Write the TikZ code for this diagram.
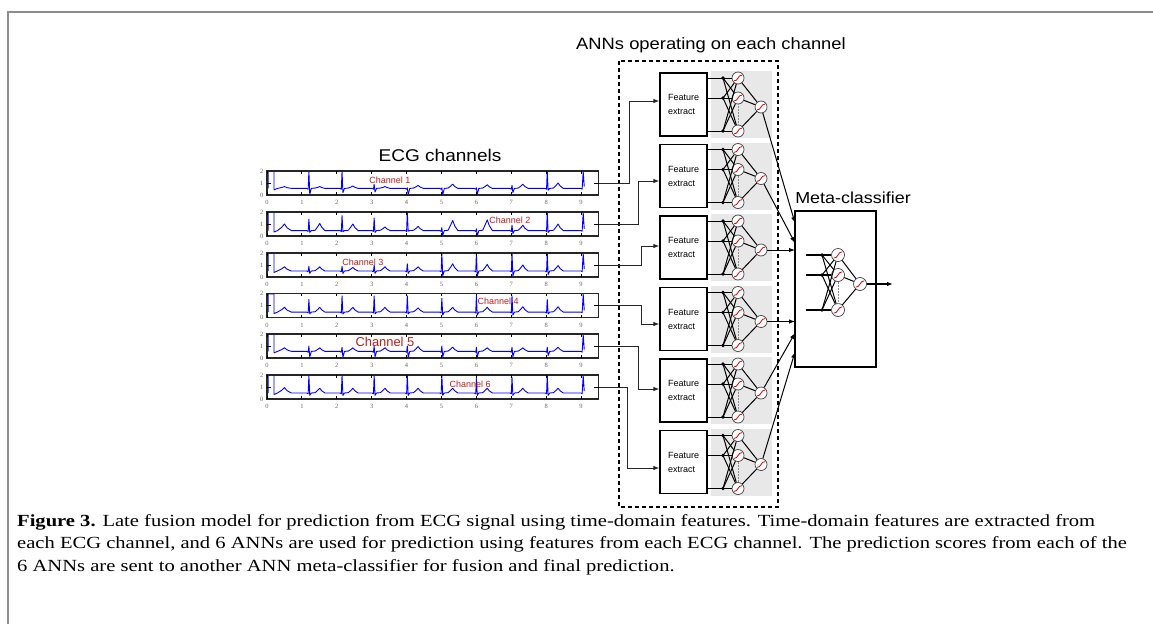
\documentclass[tikz,border=0pt]{standalone}
\usepackage{fontspec}
\setmainfont{Liberation Serif}
\setsansfont{Liberation Sans}
\newfontfamily\titlefont[FakeStretch=1.12]{Liberation Sans}
\newfontfamily\plainsans{Liberation Sans}
\newfontfamily\capfont[FakeStretch=1.21]{Liberation Serif}
\usetikzlibrary{arrows.meta,calc}
\definecolor{ecgblue}{RGB}{0,0,255}
\definecolor{chred}{RGB}{190,30,30}
\definecolor{panelgray}{RGB}{232,232,232}
\definecolor{framegray}{RGB}{140,140,140}

\tikzset{
  sig/.style={draw=ecgblue, line width=0.9pt, line join=round},
  plotframe/.style={draw=black!85, line width=1.6pt},
  tickmark/.style={draw=black, line width=1pt},
  xlab/.style={font=\fontsize{6.5}{6.5}\selectfont, text=black!60, inner sep=0pt},
  ylab/.style={font=\fontsize{6.5}{6.5}\selectfont, text=black!60, inner sep=0pt},
  chlab/.style={text=chred, inner sep=0pt},
  ttl/.style={inner sep=0pt},
  fbox/.style={draw, line width=1.3pt, minimum width=47pt, minimum height=63pt, align=left, inner sep=0pt,
    font=\plainsans\fontsize{9}{14}\selectfont},
  neuron/.style={circle, draw=black!75, fill=white, line width=0.7pt, inner sep=0pt, minimum size=#1,
    path picture={\draw[red!85!black, line width=0.8pt]
      ([shift={(-0.33*#1,-0.24*#1)}]path picture bounding box.center) .. controls
      ([shift={(0pt,-0.28*#1)}]path picture bounding box.center) and
      ([shift={(0pt,0.28*#1)}]path picture bounding box.center) ..
      ([shift={(0.33*#1,0.24*#1)}]path picture bounding box.center);}},
  neuron/.default=12pt,
  wire/.style={draw=black, line width=1pt},
  conn/.style={draw=black!85, line width=1pt, -{Latex[length=6pt,width=4.5pt]}},
  arr/.style={draw=black, line width=1pt, -{Latex[length=6pt,width=4.5pt]}},
  metabox/.style={draw, line width=1.4pt, minimum width=81pt, minimum height=156pt, inner sep=0pt},
}

% #1 index, #2 bottom y, #3 baseline, #4 first T, #5 beats, #6 label pos, #7 label size
\newcommand{\ecgplot}[7]{%
\begin{scope}[shift={(267,#2)}, x=34.9pt, y=12pt]
  \draw[sig] (0.03,#3) -- (0.03,1.96) -- (0.2,1.96) -- (0.2,#3-0.12) -- (0.3,#3)
    -- (0.42,#3+0.5*#4) -- (0.5,#3+#4) -- (0.58,#3+0.4*#4) -- (0.7,#3)
    \foreach \tA/\rA/\sA/\wA in {#5} { -- (\tA-0.06,#3) -- (\tA-0.02,#3-0.07) -- (\tA,\rA) -- (\tA+0.025,\sA)
      -- (\tA+0.07,#3) -- (\tA+0.18,#3+0.03) -- (\tA+0.26,#3+0.6*\wA) -- (\tA+0.31,#3+\wA)
      -- (\tA+0.37,#3+0.45*\wA) -- (\tA+0.46,#3) }
    -- (9.0,#3) -- (9.03,#3-0.06) -- (9.06,1.96) -- (9.09,#3+0.15);
  \draw[plotframe] (0,0) rectangle (9.5,2);
  \foreach \k in {0,...,9} {
    \draw[tickmark] (\k,0) -- (\k,0.22);
    \draw[tickmark] (\k,2) -- (\k,1.78);
    \node[xlab] (xl#1-\k) at (\k,-0.62) {\k};
  }
  \draw[tickmark] (0,1) -- (0.12,1);
  \draw[tickmark] (9.5,1) -- (9.38,1);
  \node[ylab] (yl#1-2) at (-0.15,2) {2};
  \node[ylab] (yl#1-1) at (-0.15,1) {1};
  \node[ylab] (yl#1-0) at (-0.15,0) {0};
  \coordinate (ch#1) at (9.5,1);
  \node[chlab, font=\plainsans\fontsize{#7}{#7}\selectfont] (lab#1) at #6 {Channel #1};
\end{scope}}

\begin{document}
\begin{tikzpicture}[x=1pt, y=-1pt]
\useasboundingbox (0,0) rectangle (1153,624);
\fill[white] (0,0) rectangle (1153,624);
\draw[framegray, line width=1.5pt] (8,624) -- (8,12) -- (1153,12);

% titles
\node[ttl, font=\titlefont\fontsize{17}{17}\selectfont] (ecgt) at (440,155) {ECG channels};
\node[ttl, font=\titlefont\fontsize{16.4}{16.4}\selectfont] (annt) at (711,45) {ANNs operating on each channel};
\node[ttl, font=\titlefont\fontsize{16}{16}\selectfont] (metat) at (853,198) {Meta-classifier};

% ECG plots
\ecgplot{1}{195}{0.55}{0.15}{1.2/2/0.05/0.15, 2.15/2/0.2/0.2, 3.07/0.9/0.25/0.15, 4.02/0.6/0.0/0.25, 5.01/0.6/0.0/0.35, 6.0/0.6/0.05/0.3, 7.02/0.8/0.2/0.35, 8.03/2/0.4/0.45}{(3.52,1.25)}{9}
\ecgplot{2}{236}{0.45}{0.55}{1.2/1.4/0.3/0.6, 2.15/1.7/0.35/0.55, 3.07/1.5/0.3/0.3, 4.02/2/0.4/0.35, 5.01/0.7/0.05/0.85, 6.0/0.6/0.0/0.9, 7.02/0.9/0.2/0.45, 8.03/2/0.3/0.55}{(6.96,1.33)}{9}
\ecgplot{3}{277}{0.5}{0.35}{1.2/0.9/0.3/0.35, 2.15/0.9/0.3/0.3, 3.07/1.0/0.3/0.35, 4.02/1.1/0.3/0.35, 5.01/2/0.1/0.6, 6.0/2/0.1/0.55, 7.02/2/0.1/0.5, 8.03/2/0.2/0.45}{(2.75,1.25)}{9}
\ecgplot{4}{317.5}{0.45}{0.4}{1.2/1.5/0.3/0.4, 2.15/1.8/0.3/0.4, 3.07/1.8/0.3/0.4, 4.02/1.8/0.3/0.35, 5.01/1.6/0.2/0.4, 6.0/1.8/0.2/0.4, 7.02/1.8/0.2/0.45, 8.03/1.5/0.3/0.45}{(6.62,1.37)}{9}
\ecgplot{5}{358}{0.55}{0.3}{1.2/1.0/0.1/0.3, 2.15/0.9/0.05/0.3, 3.07/1.0/0.1/0.3, 4.02/1.0/0.05/0.4, 5.01/1.0/0.1/0.35, 6.0/0.9/0.1/0.3, 7.02/0.9/0.1/0.3, 8.03/0.9/0.2/0.35}{(3.38,1.33)}{12.9}
\ecgplot{6}{399}{0.5}{0.45}{1.2/2/0.3/0.4, 2.15/2/0.3/0.4, 3.07/2/0.3/0.4, 4.02/2/0.3/0.4, 5.01/2/0.3/0.4, 6.0/1.7/0.3/0.4, 7.02/1.8/0.3/0.4, 8.03/2/0.3/0.4}{(5.82,1.25)}{9}

% dashed ANN container
\draw[dashed, line width=1.5pt, dash pattern=on 4pt off 3pt] (619,61) rectangle (778,507);

% ANNs
\foreach \i/\yt in {1/73,2/144.5,3/216,4/287.5,5/359,6/430.5} {
  \fill[panelgray] (711,\yt-2) rectangle (772,\yt+65);
  \node[fbox] (fb\i) at (683.5,\yt+31.5) {Feature\\extract};
  \foreach \k/\dy in {a/5,b/25,c/58} {
    \node[neuron] (h\i\k) at (738,\yt+\dy) {};
    \coordinate (in\i\k) at (707,\yt+\dy);
    \coordinate (d\i\k) at (723,\yt+\dy);
  }
  \node[neuron] (o\i) at (761,\yt+34) {};
  \draw[densely dotted, black!45, line width=0.5pt] (h\i b) -- (h\i c);
  \foreach \k in {a,b,c} {
    \draw[wire] (in\i\k) -- (h\i\k);
    \foreach \m in {a,b,c} {\draw[wire] (d\i\k) -- (h\i\m);}
    \draw[wire] (h\i\k) -- (o\i);
    \fill (d\i\k) circle (1.8pt);
  }
}

% ECG -> feature extract
\draw[conn] (ch1) -- ++(31,0) |- ([yshift=3.5pt]fb1.west);
\draw[conn] (ch2) -- ++(40,0) |- ([yshift=-5pt]fb2.west);
\draw[conn] (ch3) -- ++(43,0) |- ([yshift=1.5pt]fb3.west);
\draw[conn] (ch4) -- ++(43,0) |- ([yshift=-5pt]fb4.west);
\draw[conn] (ch5) -- ++(40,0) |- ([yshift=1.5pt]fb5.west);
\draw[conn] (ch6) -- ++(29,0) |- ([yshift=-6pt]fb6.west);

% Meta classifier
\node[metabox] (meta) at (835.5,289) {};
\foreach \k/\yy in {a/255,b/275,c/310} {
  \node[neuron=13pt] (mh\k) at (838,\yy) {};
  \coordinate (mi\k) at (806,\yy);
  \coordinate (md\k) at (822,\yy);
}
\node[neuron=13pt] (mo) at (860,284) {};
\draw[densely dotted, black!45, line width=0.5pt] (mhb) -- (mhc);
\foreach \k in {a,b,c} {
  \draw[wire, line width=1.3pt] (mi\k) -- (mh\k);
  \foreach \m in {a,b,c} {\draw[wire] (md\k) -- (mh\m);}
  \draw[wire] (mh\k) -- (mo);
  \fill (md\k) circle (1.8pt);
}
\coordinate (mout) at (893,284);
\draw[arr, line width=1.3pt] (mo) -- (mout);

% ANN outputs -> meta
\coordinate (mt1) at (795,223);
\coordinate (mt2) at (795,243);
\coordinate (mt3) at (795,250);
\coordinate (mt4) at (795,321.5);
\coordinate (mt5) at (795,333);
\coordinate (mt6) at (795,352);
\foreach \i in {1,...,6} {\draw[arr] (o\i) -- (mt\i);}

% caption
\node[anchor=north west, align=left, inner sep=0pt, font=\capfont\fontsize{17}{22.5}\selectfont] (cap) at (17,514)
{\textbf{Figure 3.} Late fusion model for prediction from ECG signal using time-domain features. Time-domain features are extracted from\\
each ECG channel, and 6 ANNs are used for prediction using features from each ECG channel. The prediction scores from each of the\\
6 ANNs are sent to another ANN meta-classifier for fusion and final prediction.};
\end{tikzpicture}
\end{document}
